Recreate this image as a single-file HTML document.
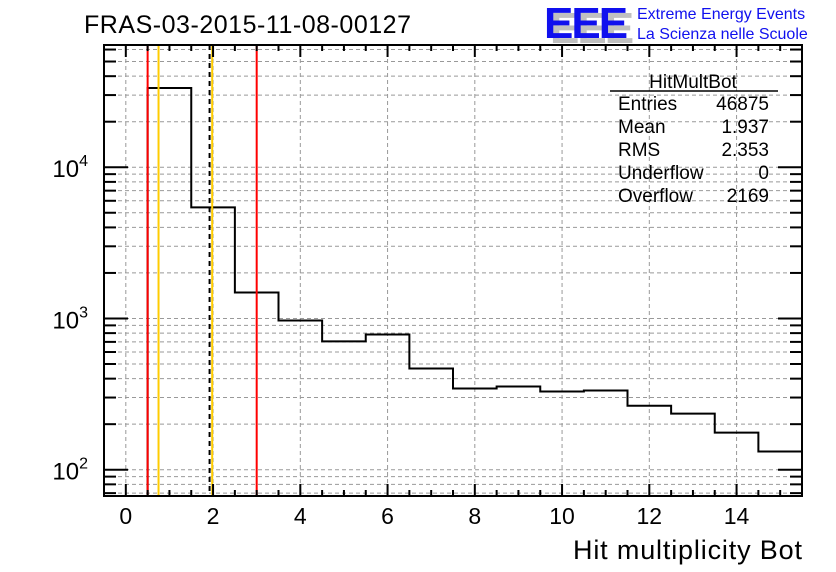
<!DOCTYPE html>
<html><head><meta charset="utf-8"><style>
html,body{margin:0;padding:0;background:#fff;width:836px;height:572px;overflow:hidden}
svg{display:block;font-family:"Liberation Sans",sans-serif}
</style></head><body>
<svg id="c" width="836" height="572">
<text x="84" y="33" font-size="25" textLength="327">FRAS-03-2015-11-08-00127</text>
<g>
<text x="550" y="43" font-size="44" font-weight="bold" fill="#c0c0c0" letter-spacing="-2">EEE</text>
<text x="544" y="38" font-size="44" font-weight="bold" fill="#1010ee" letter-spacing="-2">EEE</text>
</g>
<text x="637" y="19" font-size="16" fill="#1010ee">Extreme Energy Events</text>
<text x="637" y="39" font-size="16" fill="#1010ee">La Scienza nelle Scuole</text>
<g id="grid"></g><g id="marks"></g><g id="axes"></g>
<g font-size="19">
<text x="693" y="88" text-anchor="middle">HitMultBot</text>
<line x1="610" y1="91" x2="778" y2="91" stroke="#000" stroke-width="1.5"/>
<text x="618" y="110">Entries</text><text x="769" y="110" text-anchor="end">46875</text>
<text x="618" y="133">Mean</text><text x="769" y="133" text-anchor="end">1.937</text>
<text x="618" y="156">RMS</text><text x="769" y="156" text-anchor="end">2.353</text>
<text x="618" y="179">Underflow</text><text x="769" y="179" text-anchor="end">0</text>
<text x="618" y="202">Overflow</text><text x="769" y="202" text-anchor="end">2169</text>
</g>
<text x="573" y="559" font-size="27" textLength="229">Hit multiplicity Bot</text>
</svg>
<script>
const binEdgesLow = [0.5,1.5,2.5,3.5,4.5,5.5,6.5,7.5,8.5,9.5,10.5,11.5,12.5,13.5,14.5];
const binCounts = [33400,5430,1486,970,705,783,467,344,355,329,334,265,235,176,132];
const xTickLabels = [0,2,4,6,8,10,12,14];
const yDecades = [2,3,4];
const redLines = [0.5,3.0];
const orangeLines = [0.75,1.98];
const meanLine = [1.92];
const NS="http://www.w3.org/2000/svg";
const L=104,R=802,T=45,B=496, xmin=-0.5,xmax=15.5, lmin=Math.log10(67), lmax=Math.log10(64300);
const X=v=>L+(v-xmin)/(xmax-xmin)*(R-L);
const Y=v=>B-(Math.log10(v)-lmin)/(lmax-lmin)*(B-T);
function mk(p,t,a){const e=document.createElementNS(NS,t);for(const k in a)e.setAttribute(k,a[k]);p.appendChild(e);return e;}
const grid=document.getElementById('grid'),marks=document.getElementById('marks'),axes=document.getElementById('axes');
xTickLabels.forEach(v=>{const g=mk(grid,'line',{x1:X(v),x2:X(v),y1:T,y2:B,stroke:'#999','stroke-dasharray':'4,3'});

});
for(let d=1;d<=4;d++)for(let m=1;m<=9;m++){const v=m*Math.pow(10,d);const y=Y(v);if(y<T||y>B)continue;
const g=mk(grid,'line',{x1:L,x2:R,y1:y,y2:y,stroke:'#999','stroke-dasharray':'4,3'});


const len=m==1?24:12;
const t1=mk(axes,'line',{x1:L,x2:L+len,y1:y,y2:y,stroke:'#000','stroke-width':2});


const t2=mk(axes,'line',{x1:R,x2:R-len,y1:y,y2:y,stroke:'#000','stroke-width':2});

}
let d='M'+X(binEdgesLow[0])+','+B;
binEdgesLow.forEach((lo,i)=>{const y=Y(binCounts[i]);d+=' L'+X(lo)+','+y+' L'+X(lo+1)+','+y;});
const h=mk(marks,'path',{d:d,fill:'none',stroke:'#000','stroke-width':2});


redLines.forEach(v=>{const e=mk(marks,'line',{x1:X(v),x2:X(v),y1:T,y2:B,stroke:'#f00','stroke-width':2});

});
orangeLines.forEach(v=>{const e=mk(marks,'line',{x1:X(v),x2:X(v),y1:T,y2:B,stroke:'#fc0','stroke-width':2});

});
meanLine.forEach(v=>{const e=mk(marks,'line',{x1:X(v),x2:X(v),y1:T,y2:B,stroke:'#000','stroke-width':2,'stroke-dasharray':'5,4'});

});
for(let v=0;v<=15;v+=0.5){const len=(v%2==0)?12:6;
const a=mk(axes,'line',{x1:X(v),x2:X(v),y1:B,y2:B-len,stroke:'#000','stroke-width':2});


const b=mk(axes,'line',{x1:X(v),x2:X(v),y1:T,y2:T+len,stroke:'#000','stroke-width':2});

}
xTickLabels.forEach(v=>{const t=mk(axes,'text',{x:X(v),y:524,'font-size':23,'text-anchor':'middle'});t.textContent=v;

});
yDecades.forEach(p=>{const y=Y(Math.pow(10,p));const t=mk(axes,'text',{x:88,y:y+10,'font-size':24,'text-anchor':'end'});
t.innerHTML='10<tspan dy="-11" font-size="16">'+p+'</tspan>';

});
const f=mk(axes,'rect',{x:L,y:T,width:R-L,height:B-T,fill:'none',stroke:'#000','stroke-width':2});


</script>
</body></html>
